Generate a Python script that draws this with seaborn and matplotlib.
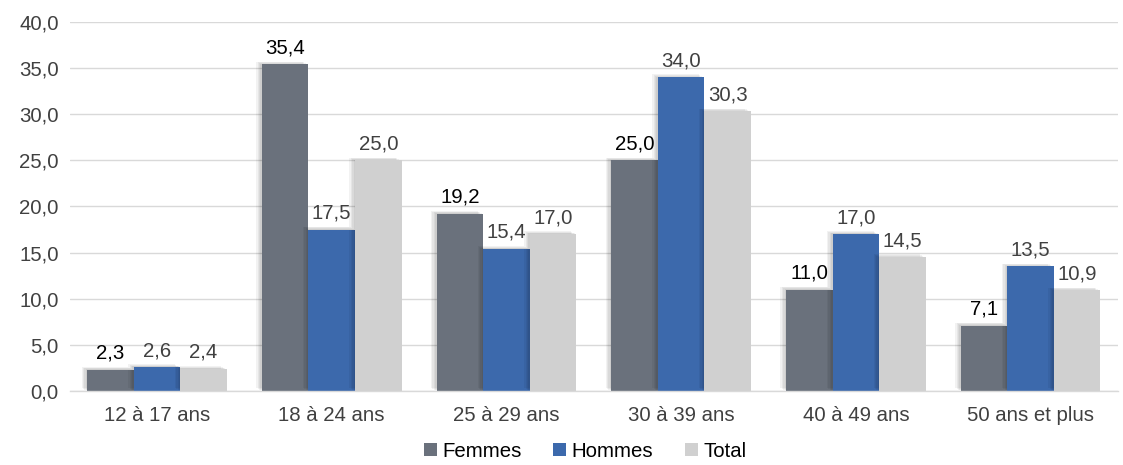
import matplotlib
matplotlib.use("Agg")
import matplotlib.pyplot as plt
import matplotlib.patheffects as pe
from matplotlib.ticker import FuncFormatter
import seaborn as sns
import pandas as pd

categories = ["12 à 17 ans", "18 à 24 ans", "25 à 29 ans", "30 à 39 ans", "40 à 49 ans", "50 ans et plus"]
series_names = ["Femmes", "Hommes", "Total"]
femmes = [2.3, 35.4, 19.2, 25.0, 11.0, 7.1]
hommes = [2.6, 17.5, 15.4, 34.0, 17.0, 13.5]
total = [2.4, 25.0, 17.0, 30.3, 14.5, 10.9]
y_ticks = [0, 5, 10, 15, 20, 25, 30, 35, 40]

colors = ["#6a717c", "#3c69ac", "#d0d0d0"]
label_colors = ["#000000", "#404040", "#404040"]

rows = []
for name, vals in zip(series_names, [femmes, hommes, total]):
    for cat, v in zip(categories, vals):
        rows.append({"Catégorie": cat, "Série": name, "Valeur": v})
df = pd.DataFrame(rows)

sns.set_theme(style="white")
plt.rcParams["font.family"] = ["Liberation Sans", "DejaVu Sans"]

FS = 14.7

fig = plt.figure(figsize=(11.23, 4.65), dpi=100)
ax = fig.add_axes([0.062, 0.159, 0.9335, 0.794])

sns.barplot(data=df, x="Catégorie", y="Valeur", hue="Série", order=categories,
            hue_order=series_names, palette=colors, width=0.8, saturation=1,
            errorbar=None, ax=ax, legend=True, linewidth=0, edgecolor="none")

# soft drop shadow on the bars
shadow = [pe.SimplePatchShadow(offset=(-o, o * 0.5), shadow_rgbFace="#000000", alpha=0.05)
          for o in (4, 3, 2, 1)]

fmt = lambda v: f"{v:.1f}".replace(".", ",")
for container, lc in zip(ax.containers, label_colors):
    for bar in container:
        bar.set_path_effects(shadow + [pe.Normal()])
    ax.bar_label(container, labels=[fmt(b.get_height()) for b in container],
                 padding=5, fontsize=FS, color=lc)

ax.set_ylim(0, 40)
ax.set_yticks(y_ticks)
ax.yaxis.set_major_formatter(FuncFormatter(lambda v, p: fmt(v)))
ax.set_xlim(-0.5, len(categories) - 0.5)
ax.grid(axis="y", color="#d9d9d9", linewidth=1)
ax.set_axisbelow(True)
for s in ["left", "right", "top"]:
    ax.spines[s].set_visible(False)
ax.spines["bottom"].set_color("#d9d9d9")
ax.spines["bottom"].set_linewidth(1)
ax.tick_params(axis="both", length=0, labelsize=FS, labelcolor="#404040", pad=8)
ax.tick_params(axis="x", pad=11)
ax.set_xlabel("")
ax.set_ylabel("")

handles, labels = ax.get_legend_handles_labels()
ax.get_legend().remove()
fig.legend(handles, labels, loc="lower center", bbox_to_anchor=(0.521, -0.03), ncol=3,
           frameon=False, fontsize=FS, handlelength=0.65, handleheight=0.65,
           handletextpad=0.25, columnspacing=1.55, labelcolor="#000000")

fig.savefig("out.png", dpi=100)
